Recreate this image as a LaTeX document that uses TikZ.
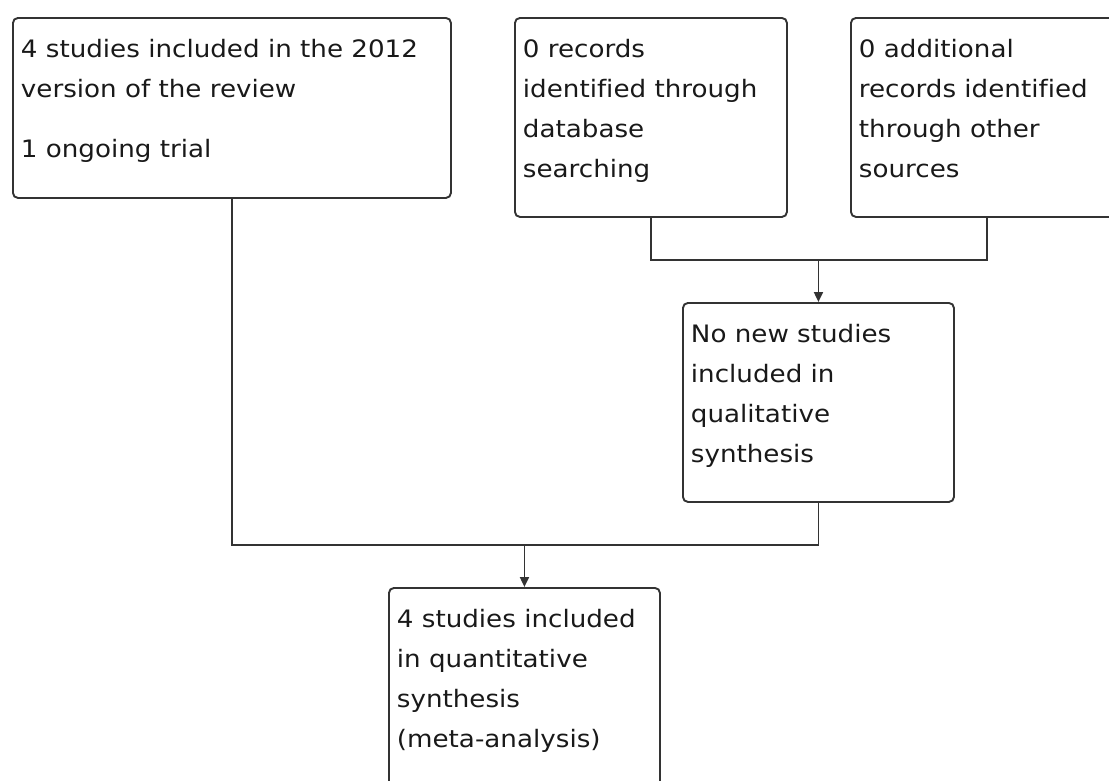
\documentclass[tikz,border=0pt]{standalone}
\usepackage{fontspec}
\setmainfont{DejaVu Sans}[FakeStretch=1.09,Ligatures=NoCommon]
\usetikzlibrary{positioning,arrows.meta}
\newcommand{\boxtext}[3]{\parbox[t][#2][t]{#1}{\raggedright\strut#3}}

\begin{document}
\begin{tikzpicture}[x=1pt,y=-1pt,>={Triangle[length=10pt,width=9pt]},
  font=\fontsize{24pt}{40pt}\selectfont,
  box/.style={draw=black!80,line width=1.9pt,rounded corners=5pt,fill=white,
              anchor=north west,inner xsep=8pt,inner ysep=12pt,text=black!90},
  link/.style={draw=black!80,line width=1.9pt}]
 \useasboundingbox (0,0) rectangle (1109,780);
 \node[box] (rev) at (12,17) {\boxtext{422pt}{156pt}{4 studies included in the 2012\\version of the review\\[20pt]1 ongoing trial}};
 \node[box] (dbs) at (514,17) {\boxtext{256pt}{175pt}{0 records\\identified through\\database\\searching}};
 \node[box] (oth) at (850,17) {\boxtext{256pt}{175pt}{0 additional\\records identified\\through other\\sources}};
 \node[box] (qual) at (682,302) {\boxtext{255pt}{175pt}{No new studies\\included in\\qualitative\\synthesis}};
 \node[box] (quan) at (388,587) {\boxtext{255pt}{175pt}{4 studies included\\in quantitative\\synthesis\\(meta-analysis)}};
 \coordinate[above=42pt of qual.north] (jtop);
 \coordinate[above=42pt of quan.north] (jbot);
 \draw[link] (dbs.south) |- (jtop) -| (oth.south);
 \draw[link,->] (jtop) -- (qual.north);
 \draw[link] (rev.south) |- (jbot) -| (qual.south);
 \draw[link,->] (jbot) -- (quan.north);
\end{tikzpicture}
\end{document}
